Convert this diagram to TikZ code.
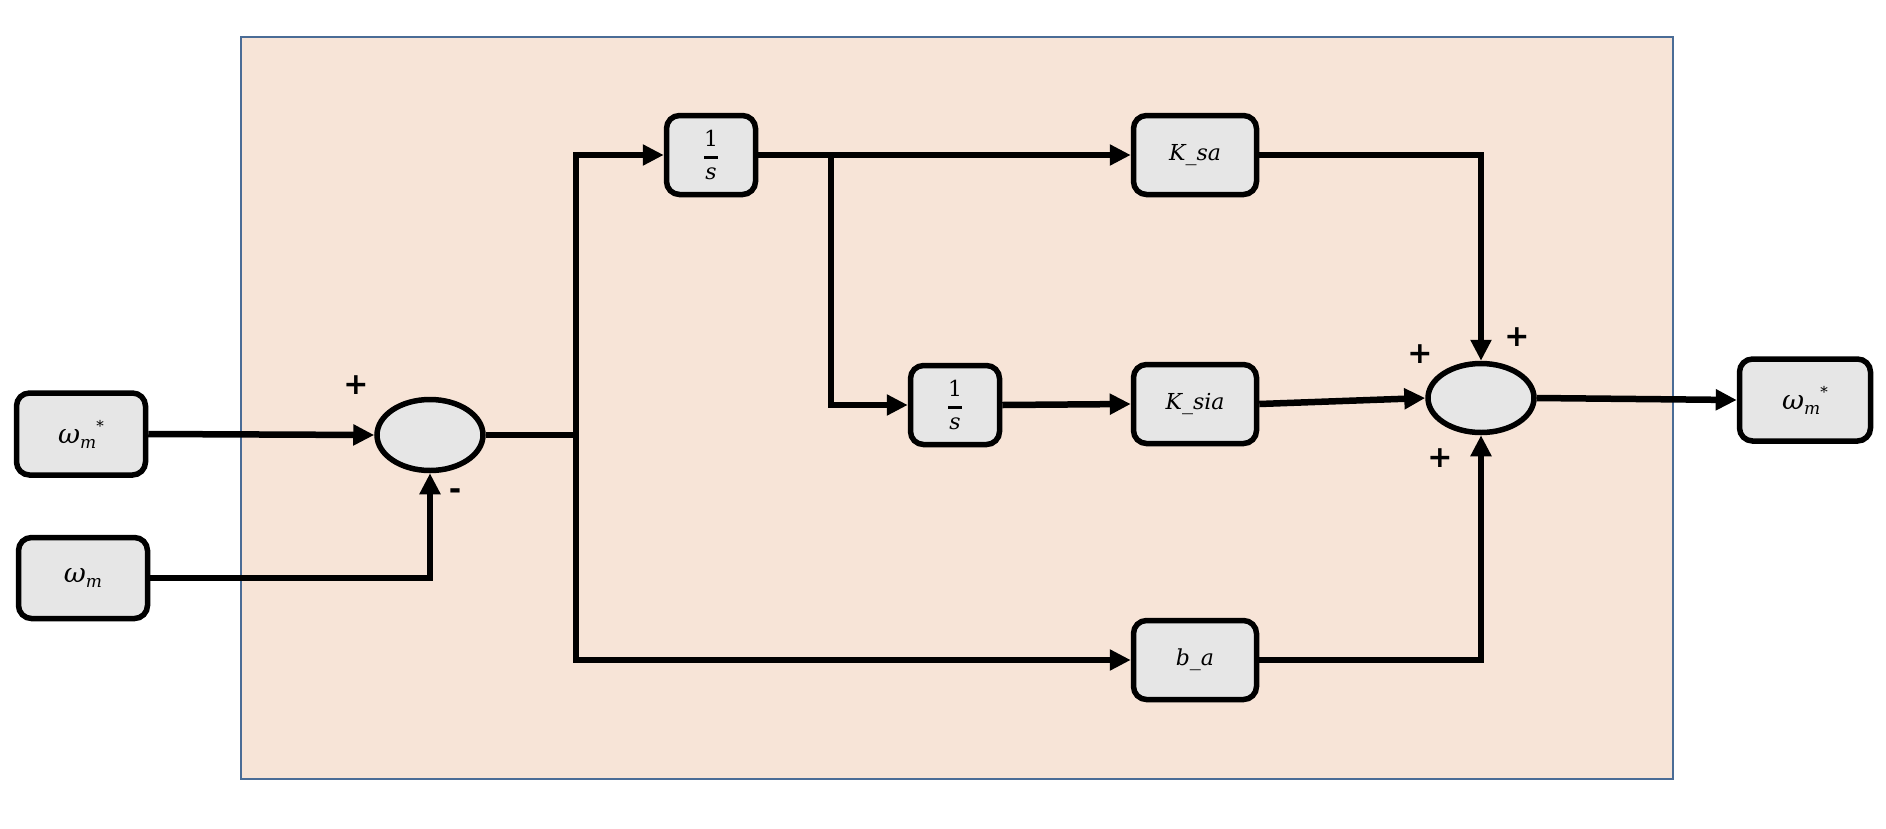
\documentclass[tikz,border=0pt]{standalone}
\usepackage{fontspec}
\newfontfamily\lab{DejaVu Serif}
\newfontfamily\sgn{DejaVu Sans}
\usetikzlibrary{arrows.meta,shapes.geometric}
\definecolor{bgfill}{HTML}{F7E4D7}
\definecolor{bgline}{HTML}{4A6C96}
\definecolor{boxfill}{HTML}{E6E6E6}
\newcommand{\invs}{\vbox{\offinterlineskip\halign{\hfil##\hfil\cr 1\cr\noalign{\kern9pt}\rule{14pt}{3.5pt}\cr\noalign{\kern8pt}\itshape s\cr}}}
\newcommand{\omg}[1]{\itshape ω\raisebox{-5pt}{\fontsize{17}{17}\selectfont m}\ifx#1s\raisebox{12pt}{\upshape\fontsize{15}{15}\selectfont *}\fi}
\begin{document}
\begin{tikzpicture}[x=1pt,y=-1pt,
  blk/.style={draw,line width=5.5pt,fill=boxfill,rounded corners=13pt,minimum width=#1,minimum height=79pt,inner sep=0pt,font=\lab\fontsize{22}{26}\selectfont},
  sumnode/.style={ellipse,draw,line width=5.5pt,fill=boxfill,minimum width=106pt,minimum height=71pt,inner sep=0pt},
  conn/.style={line width=6.5pt,-{Triangle[length=21pt,width=20pt]}},
  wire/.style={line width=6.5pt},
  sign/.style={font=\sgn\bfseries\fontsize{30}{32}\selectfont,inner sep=0pt},
  omgf/.style={font=\lab\fontsize{27}{30}\selectfont}
]
\useasboundingbox (0,0) rectangle (1886,828);
\draw[bgline,line width=1.5pt,fill=bgfill] (241,37) rectangle (1673,779);

\node[blk=129pt,minimum height=82pt,omgf] (in1) at (81,434) {\omg{s}};
\node[blk=129pt,minimum height=81pt,omgf] (in2) at (83,578) {\omg{n}};
\node[sumnode] (sum1) at (430,435) {};
\node[blk=89pt] (int1) at (711,155) {\invs};
\node[blk=123pt] (ksa) at (1195,155) {\itshape K\_sa};
\node[blk=89pt] (int2) at (955,405) {\invs};
\node[blk=123pt] (ksia) at (1195,404) {\itshape K\_sia};
\node[blk=123pt] (ba) at (1195,660) {\itshape b\_a};
\node[sumnode,minimum height=69pt] (sum2) at (1481,398) {};
\node[blk=131pt,minimum height=82pt,omgf] (out) at (1805,400) {\omg{s}};

\coordinate (j1) at (576,435);
\coordinate (j2) at (831,155);

\draw[conn] (in1.east) -- (sum1.west);
\draw[conn] (in2.east) -| (sum1.south);
\draw[wire] (sum1.east) -- (j1);
\draw[conn] (j1) |- (int1.west);
\draw[conn] (j1) |- (ba.west);
\draw[conn] (int1.east) -- (ksa.west);
\draw[conn] (j2) |- (int2.west);
\draw[conn] (int2.east) -- (ksia.west);
\draw[conn] (ksa.east) -| (sum2.north);
\draw[conn] (ksia.east) -- (sum2.west);
\draw[conn] (ba.east) -| (sum2.south);
\draw[conn] (sum2.east) -- (out.west);

\node[sign] (p1) at (356,385) {+};
\node[sign] (m1) at (455,494) {-};
\node[sign] (p2) at (1420,354) {+};
\node[sign] (p3) at (1517,337) {+};
\node[sign] (p4) at (1440,458) {+};
\end{tikzpicture}
\end{document}
